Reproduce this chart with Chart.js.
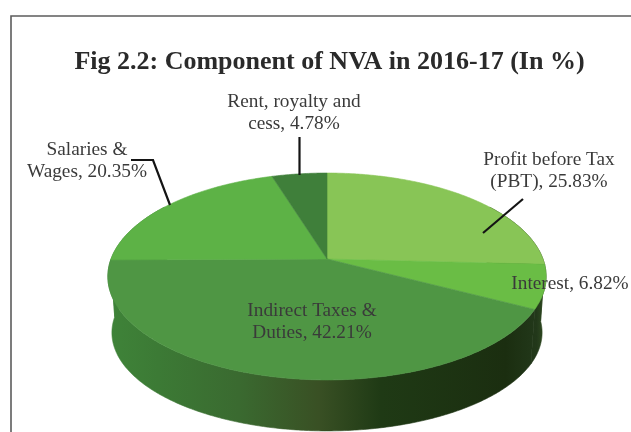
<!DOCTYPE html>
<html><head><meta charset="utf-8">
<style>html,body{margin:0;padding:0;background:#fff}#wrap{width:631px;height:432px}</style>
<script src="https://cdn.jsdelivr.net/npm/chart.js@4"></script></head>
<body><div id="wrap"><canvas id="c" width="631" height="432"></canvas></div>
<script>
const categories = ["Profit before Tax (PBT)", "Interest", "Indirect Taxes & Duties", "Salaries & Wages", "Rent, royalty and cess"];
const shares = [25.83, 6.82, 42.21, 20.35, 4.78];
const sliceColors = ["#88c556", "#6abd45", "#4f9644", "#5db246", "#3f7f3a"];
const titleText = "Fig 2.2: Component of NVA in 2016-17 (In %)";
const labelLines = [
  ["Profit before Tax", "(PBT), 25.83%"],
  ["Interest, 6.82%"],
  ["Indirect Taxes &", "Duties, 42.21%"],
  ["Salaries &", "Wages, 20.35%"],
  ["Rent, royalty and", "cess, 4.78%"]
];

// perspective projection of the pie disc
const CX = 327, K = 0.169;
const TOP = {y: 259, a: 216, b: 100.5};
const BOTTOM = {y: 316, a: 212, b: 95.5};
const proj = (d, ang) => {
  const u = Math.cos(ang), v = Math.sin(ang), w = 1 - K * v;
  return [CX + d.a * u / w, d.y + d.b * v / w];
};
const labelPos = [[549,[160,182]],[570,[284]],[312,[311,333]],[87,[150,172]],[294,[102,124]]];
const leaders = [
  [[523,199],[483,233]],
  [[131,160],[153,160],[170,205]],
  [[299.5,137],[299.5,175]]
];
function drawTilted(ctx){
  const o = this.options;
  ctx.save();
  ctx.beginPath();
  ctx.moveTo(CX, TOP.y);
  for (let a = this.startAngle; a < this.endAngle; a += 0.01) ctx.lineTo(...proj(TOP, a));
  ctx.lineTo(...proj(TOP, this.endAngle));
  ctx.closePath();
  ctx.fillStyle = o.backgroundColor;
  ctx.strokeStyle = o.backgroundColor;
  ctx.lineWidth = 0.6;
  ctx.fill();
  ctx.stroke();
  ctx.restore();
}
const tilted = {
  id: "tilted",
  beforeDraw(chart){
    const c = chart.ctx;
    c.save();
    c.fillStyle = "#fff";
    c.fillRect(0,0,631,432);
    c.strokeStyle = "#5c5c5c"; c.lineWidth = 1.6;
    c.beginPath(); c.moveTo(11,432); c.lineTo(11,16); c.lineTo(631,16); c.stroke();
    c.restore();
  },
  beforeDatasetsDraw(chart){
    const c = chart.ctx, meta = chart.getDatasetMeta(0);
    const g = c.createLinearGradient(105,0,550,0);
    g.addColorStop(0, "#3f8439");
    g.addColorStop(0.12, "#3c7a35");
    g.addColorStop(0.3, "#3a6a30");
    g.addColorStop(0.48, "#395024");
    g.addColorStop(0.62, "#1f3a15");
    g.addColorStop(0.9, "#1b2e10");
    g.addColorStop(0.97, "#22381a");
    g.addColorStop(1, "#3c5a28");
    c.save();
    c.fillStyle = g; c.strokeStyle = g; c.lineWidth = 0.6;
    meta.data.forEach(el => {
      el.draw = drawTilted;
      const s = el.startAngle, e = el.endAngle;
      const lo = Math.max(s, -0.6), hi = Math.min(e, Math.PI + 0.6);
      if (hi <= lo) return;
      c.beginPath();
      for (let a = lo; a < hi; a += 0.01) c.lineTo(...proj(TOP, a));
      c.lineTo(...proj(TOP, hi));
      c.lineTo(...proj(BOTTOM, hi));
      for (let a = hi; a > lo; a -= 0.01) c.lineTo(...proj(BOTTOM, a));
      c.lineTo(...proj(BOTTOM, lo));
      c.closePath(); c.fill(); c.stroke();
    });
    c.restore();
  },
  afterDatasetsDraw(chart){
    const c = chart.ctx;
    c.save();
    c.strokeStyle = "#141414"; c.lineWidth = 2.2; c.lineJoin = "miter";
    leaders.forEach(l => {
      c.beginPath();
      l.forEach((p,i) => i ? c.lineTo(p[0],p[1]) : c.moveTo(p[0],p[1]));
      c.stroke();
    });
    c.fillStyle = "#3a3a3a";
    c.font = "19.3px 'Liberation Serif'";
    c.textAlign = "center"; c.textBaseline = "middle";
    labelLines.forEach((lines,i) => lines.forEach((t,j) => c.fillText(t, labelPos[i][0], labelPos[i][1][j])));
    c.restore();
  }
};
new Chart(document.getElementById("c"), {
  type: "pie",
  data: { labels: categories, datasets: [{ data: shares, backgroundColor: sliceColors, borderWidth: 0 }] },
  options: {
    responsive: false, animation: false,
    layout: { padding: { left: 28, top: 45 } },
    plugins: {
      legend: { display: false }, tooltip: { enabled: false },
      title: { display: true, text: titleText, color: "#2a2a2a",
        font: { family: "'Liberation Serif'", size: 26, weight: "bold" }, padding: { top: 2, bottom: 4 } }
    }
  },
  plugins: [tilted]
});
</script></body></html>
